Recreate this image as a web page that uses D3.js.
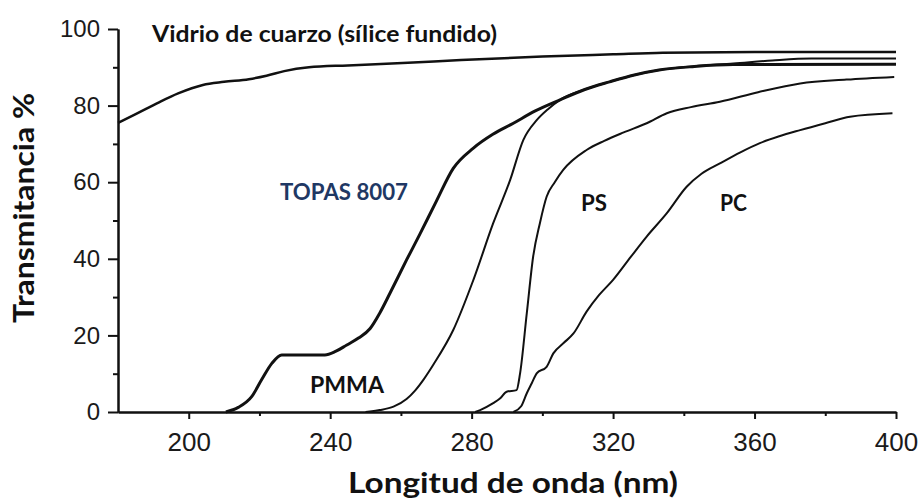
<!DOCTYPE html>
<html>
<head>
<meta charset="utf-8">
<script src="https://cdn.jsdelivr.net/npm/d3@7"></script>
<style>
  body { margin: 0; background: #fff; }
  .lbl { font-family: Lato, "Open Sans", sans-serif; font-weight: 700; fill: #111; }
</style>
</head>
<body>
<div id="chart"></div>
<script>
// tick values
var xTicks = [200, 240, 280, 320, 360, 400];
var xMinor = [220, 260, 300, 340, 380];
var yTicks = [0, 20, 40, 60, 80, 100];
var yMinor = [10, 30, 50, 70, 90];

// [longitud de onda (nm), transmitancia %]
var quartz = [[180,75.5],[185,77.8],[191,80.6],[197,83.2],[204,85.4],[210,86.2],[217,86.9],[222,87.8],
  [227,89.0],[234,90.0],[245,90.5],[262,91.2],[277,91.9],[300,92.8],[320,93.4],[334,93.8],[360,94.0],[400,94.0]];
var topas = [[210.5,0],[214,1.2],[217.8,4.0],[220.6,8.4],[223.5,12.7],[226.3,14.9],[238.5,14.9],[241.5,15.8],
  [244.7,17.5],[248,19.3],[251.3,21.8],[254,25.8],[256.9,31.0],[261.6,39.7],[265.4,46.5],[270,55],[274.8,63.6],
  [280.5,68.9],[286,72.5],[291.8,75.4],[298,78.6],[305,81.5],[312,84.2],[319,86.2],[326,88.0],[333,89.3],
  [343,90.2],[354,90.7],[400,90.8]];
var pmma = [[250,0],[254,0.5],[257.9,1.4],[261.6,3.4],[264,5.6],[266.5,8.6],[269.2,12.4],[274.8,21.4],
  [280.5,34.5],[286.1,49.3],[290.9,60.6],[294.6,71.0],[298.4,76.2],[301.5,79.0],[305,81.5],[312,84.2],
  [319,86.2],[326,88.0],[333,89.3],[343,90.3],[354,91.0],[365,91.8],[376,92.3],[400,92.3]];
var ps = [[281,0],[282.4,0.5],[286.1,2.3],[288,3.5],[289.9,5.3],[292.7,5.7],[293.7,10.1],[295.6,25.8],
  [297.4,40.6],[299.3,49.3],[301.2,56.2],[303.5,60],[305.9,63.2],[312.5,68.4],[317.5,70.8],[323,73.0],
  [329.5,75.4],[335.2,78.0],[342,79.6],[350.2,81.0],[361,83.5],[372.9,85.8],[386,86.8],[399.5,87.5]];
var pc = [[291.8,0],[294,1.5],[295.6,4.9],[297,7.5],[298.4,10.1],[301.2,11.8],[303.1,15.3],[306,18],
  [308.8,20.5],[312.5,26.2],[316,30.5],[320,34.5],[325,40.5],[329.5,45.8],[335.2,51.9],[340.8,58.8],
  [345,62.2],[350.2,64.9],[356,67.8],[361.5,70.2],[367,72.0],[372.9,73.6],[380,75.4],[387,77.1],[399,78.0]];

var margin = {top: 29, right: 25, bottom: 88, left: 118},
    width = 921 - margin.left - margin.right,
    height = 500 - margin.top - margin.bottom;

var svg = d3.select("#chart").append("svg")
    .attr("width", 921)
    .attr("height", 500);

var g = svg.append("g")
    .attr("transform", "translate(" + margin.left + "," + margin.top + ")");

var x = d3.scaleLinear().domain([180, 400]).range([0, width]);
var y = d3.scaleLinear().domain([0, 100]).range([height, 0]);

// minor ticks
g.append("g")
    .attr("transform", "translate(0," + height + ")")
    .call(d3.axisBottom(x).tickValues(xMinor).tickSize(4).tickSizeOuter(0).tickFormat(""));
g.append("g")
    .call(d3.axisLeft(y).tickValues(yMinor).tickSize(5).tickSizeOuter(0).tickFormat(""));

// major axes
var xAxis = g.append("g")
    .attr("transform", "translate(0," + height + ")")
    .call(d3.axisBottom(x).tickValues(xTicks).tickSize(7).tickSizeOuter(0).tickPadding(14));
xAxis.selectAll("text").attr("font-size", 26);

var yAxis = g.append("g")
    .call(d3.axisLeft(y).tickValues(yTicks).tickSize(10).tickSizeOuter(0).tickPadding(8));
yAxis.selectAll("text").attr("font-size", 24);

g.selectAll(".domain, .tick line").attr("stroke", "#111").attr("stroke-width", 2);
g.selectAll(".tick text")
    .attr("font-family", "'Liberation Sans', Arial, sans-serif")
    .attr("fill", "#1a1a1a");

// curves
var line = d3.line()
    .x(function(d) { return x(d[0]); })
    .y(function(d) { return y(d[1]); })
    .curve(d3.curveMonotoneX);

var series = [
  {data: quartz, w: 2.5},
  {data: pc, w: 2},
  {data: ps, w: 2},
  {data: pmma, w: 2},
  {data: topas, w: 3}
];

g.selectAll(".curve")
  .data(series)
  .enter().append("path")
    .attr("class", "curve")
    .attr("fill", "none")
    .attr("stroke", "#111")
    .attr("stroke-linejoin", "round")
    .attr("stroke-width", function(d) { return d.w; })
    .attr("d", function(d) { return line(d.data); });

// labels
function label(txt, px, py, size, len, color) {
  return svg.append("text")
    .attr("class", "lbl")
    .attr("x", px).attr("y", py)
    .attr("font-size", size)
    .attr("textLength", len)
    .attr("lengthAdjust", "spacingAndGlyphs")
    .style("fill", color || "#111")
    .text(txt);
}

label("Vidrio de cuarzo (sílice fundido)", 152, 42, 22, 345);
label("TOPAS 8007", 280, 200, 23, 128, "#1f3864");
label("PMMA", 310, 393, 22, 74);
label("PS", 581, 211, 23, 26);
label("PC", 720, 211, 23, 27);
label("Longitud de onda (nm)", 348, 493, 28, 330);

svg.append("text")
    .attr("class", "lbl")
    .attr("transform", "translate(33.5,323) rotate(-90)")
    .attr("font-size", 29)
    .attr("textLength", 230)
    .attr("lengthAdjust", "spacingAndGlyphs")
    .text("Transmitancia %");
</script>
</body>
</html>
